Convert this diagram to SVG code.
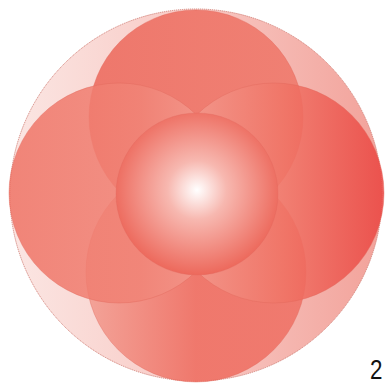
<svg xmlns="http://www.w3.org/2000/svg" width="386" height="385" viewBox="0 0 386 385">
<style>
.petal{fill-opacity:0.85;stroke:#e0665a;stroke-opacity:0.5;stroke-width:0.8}
.lbl{font-family:"Liberation Sans",Arial,sans-serif;font-size:28px;fill:#111}
</style>
<defs>
<linearGradient id="gOuter" x1="0" y1="0" x2="1" y2="0">
<stop offset="0" stop-color="#fbe6e3"/>
<stop offset="0.5" stop-color="#f8c9c4"/>
<stop offset="1" stop-color="#f2a29a"/>
</linearGradient>
<linearGradient id="gTop" x1="0" y1="0" x2="1" y2="0">
<stop offset="0" stop-color="#ec6659"/>
<stop offset="1" stop-color="#ef7769"/>
</linearGradient>
<linearGradient id="gLeft" x1="0" y1="0" x2="1" y2="0">
<stop offset="0" stop-color="#ef7365"/>
<stop offset="0.6" stop-color="#f18477"/>
<stop offset="1" stop-color="#f4a297"/>
</linearGradient>
<linearGradient id="gRight" x1="0" y1="0" x2="1" y2="0">
<stop offset="0" stop-color="#f4a59a"/>
<stop offset="0.55" stop-color="#f07466"/>
<stop offset="1" stop-color="#ea4440"/>
</linearGradient>
<linearGradient id="gBottom" x1="0" y1="0" x2="1" y2="0">
<stop offset="0" stop-color="#f29a8e"/>
<stop offset="0.5" stop-color="#ee6a5d"/>
<stop offset="1" stop-color="#ef7064"/>
</linearGradient>
<radialGradient id="gCenter" cx="197" cy="190" r="84" gradientUnits="userSpaceOnUse">
<stop offset="0" stop-color="#ffffff"/>
<stop offset="0.35" stop-color="#f7b8b0"/>
<stop offset="1" stop-color="#ed6a5d"/>
</radialGradient>
</defs>
<g id="outer">
<circle cx="196" cy="195" r="186" fill="url(#gOuter)" stroke="#d4847b" stroke-width="1" stroke-dasharray="1.2 0.8"/>
</g>
<g id="top"><circle class="petal" cx="196" cy="117" r="107" fill="url(#gTop)"/></g>
<g id="bottom"><circle class="petal" cx="196" cy="272" r="110" fill="url(#gBottom)"/></g>
<g id="left"><circle class="petal" cx="119" cy="193" r="110" fill="url(#gLeft)"/></g>
<g id="right"><circle class="petal" cx="274" cy="193" r="110" fill="url(#gRight)"/></g>
<g id="center"><circle cx="197" cy="194" r="81" fill="url(#gCenter)" stroke="#e0665a" stroke-opacity="0.4" stroke-width="0.8"/></g>
<g id="label"><text class="lbl" transform="translate(370,379) scale(0.8,1)">2</text></g>
</svg>
